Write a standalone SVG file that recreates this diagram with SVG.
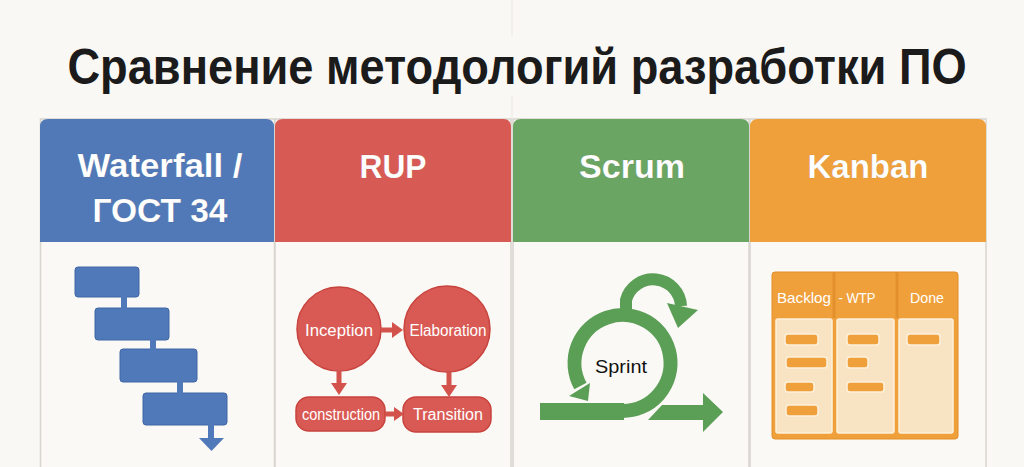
<svg xmlns="http://www.w3.org/2000/svg" width="1024" height="467" viewBox="0 0 1024 467">
<style>
.ttl{font-family:"Liberation Sans",Arial,sans-serif;font-weight:bold;fill:#1b1b1b}
.hd{font-family:"Liberation Sans",Arial,sans-serif;font-weight:bold;fill:#ffffff;text-anchor:middle;stroke:#00000022;stroke-width:0.6}
.body{fill:#fbf9f5;stroke:#d8d4ce;stroke-width:1.5}
.wf{fill:#5079b9;stroke:#3f67a6;stroke-width:1}
.rup{fill:#d95a54;stroke:#c8433e;stroke-width:1.5}
.rt{font-family:"Liberation Sans",Arial,sans-serif;font-size:16px;fill:#ffffff;text-anchor:middle}
.kt{font-family:"Liberation Sans",Arial,sans-serif;font-size:15px;fill:#ffffff;text-anchor:middle}
.kc{fill:#f8e4c2;stroke:#fdf0da;stroke-width:1.5}
.card{fill:#efa03b;stroke:#fdf0da;stroke-width:1.5}
.gr{fill:#5b9e56}
</style>
<rect x="0" y="0" width="1024" height="467" fill="#faf8f4"/>
<line x1="512" y1="0" x2="512" y2="36" stroke="#ebe8e3" stroke-width="1"/>
<line x1="512" y1="96" x2="512" y2="118" stroke="#ebe8e3" stroke-width="1"/>
<g transform="translate(517 84) scale(0.905 1)">
<text class="ttl" x="0" y="0" font-size="50" text-anchor="middle">Сравнение методологий разработки ПО</text>
</g>

<g id="col-waterfall">
<rect class="body" x="40.5" y="119" width="234" height="360"/>
<path d="M40 242 V127 Q40 119 48 119 H266 Q274 119 274 127 V242 Z" fill="#5179b8"/>
<text class="hd" x="160" y="177" font-size="33" textLength="165" lengthAdjust="spacingAndGlyphs">Waterfall /</text>
<text class="hd" x="160" y="222" font-size="33" textLength="135" lengthAdjust="spacingAndGlyphs">ГОСТ 34</text>
<rect class="wf" x="75" y="267" width="64" height="30" rx="3"/>
<rect class="wf" x="95" y="308" width="74" height="32" rx="3"/>
<rect class="wf" x="120" y="349" width="77" height="33" rx="3"/>
<rect class="wf" x="143" y="393" width="84" height="32" rx="3"/>
</g>

<g id="col-rup">
<rect class="body" x="275" y="119" width="236" height="360"/>
<path d="M275 242 V127 Q275 119 283 119 H503 Q511 119 511 127 V242 Z" fill="#d85a55"/>
<text class="hd" x="393" y="178" font-size="34" textLength="67" lengthAdjust="spacingAndGlyphs">RUP</text>
<g id="rup-inception">
<circle class="rup" cx="339" cy="329" r="42"/>
<text class="rt" x="339" y="336" textLength="68" lengthAdjust="spacingAndGlyphs">Inception</text>
</g>
<g id="rup-elaboration">
<circle class="rup" cx="447" cy="329" r="43"/>
<text class="rt" x="448" y="336" textLength="77" lengthAdjust="spacingAndGlyphs">Elaboration</text>
</g>
<g id="rup-construction">
<rect class="rup" x="296" y="397" width="89" height="34" rx="13"/>
<text class="rt" x="341" y="420" textLength="78" lengthAdjust="spacingAndGlyphs">construction</text>
</g>
<g id="rup-transition">
<rect class="rup" x="403" y="397" width="88" height="35" rx="13"/>
<text class="rt" x="448" y="420" textLength="70" lengthAdjust="spacingAndGlyphs">Transition</text>
</g>
</g>

<g id="col-scrum">
<rect class="body" x="513" y="119" width="236" height="360"/>
<path d="M513 242 V127 Q513 119 521 119 H741 Q749 119 749 127 V242 Z" fill="#6ba563"/>
<text class="hd" x="632" y="178" font-size="34" textLength="106" lengthAdjust="spacingAndGlyphs">Scrum</text>
<g id="scrum-sprint">
<path d="M626 312 V300 A28 28 0 0 1 681 306" fill="none" stroke="#5b9e56" stroke-width="12"/>
<polygon class="gr" points="667,303 698,310 678,328"/>
<rect class="gr" x="540" y="403" width="84" height="17"/>
<path d="M622 411 A48 48 0 1 0 580.4 386" fill="none" stroke="#5b9e56" stroke-width="14"/>
<polygon class="gr" points="569,396 590,383 588,401"/>
<polygon class="gr" points="648,420 662,405 703,405 703,393 723,412 703,432 703,420"/>
<text x="621" y="373" font-family="'Liberation Sans',Arial,sans-serif" font-size="19" fill="#111111" text-anchor="middle" textLength="52" lengthAdjust="spacingAndGlyphs">Sprint</text>
</g>
</g>

<g id="col-kanban">
<rect class="body" x="750" y="119" width="236" height="360"/>
<path d="M750 242 V127 Q750 119 758 119 H978 Q986 119 986 127 V242 Z" fill="#efa03b"/>
<text class="hd" x="868" y="178" font-size="34" textLength="121" lengthAdjust="spacingAndGlyphs">Kanban</text>
<g id="kanban-board">
<rect x="772" y="272" width="186" height="167" rx="3" fill="#efa03b" stroke="#e38e26" stroke-width="1"/>
<line x1="834" y1="272" x2="834" y2="318" stroke="#e2902c" stroke-width="3"/>
<line x1="897" y1="272" x2="897" y2="318" stroke="#e2902c" stroke-width="3"/>
<text class="kt" x="804" y="303" textLength="54" lengthAdjust="spacingAndGlyphs">Backlog</text>
<text class="kt" x="857" y="303" textLength="37" lengthAdjust="spacingAndGlyphs">- WTP</text>
<text class="kt" x="927" y="303" textLength="34" lengthAdjust="spacingAndGlyphs">Done</text>
<rect class="kc" x="776" y="319" width="56" height="114" rx="2"/>
<rect class="kc" x="837" y="319" width="57" height="114" rx="2"/>
<rect class="kc" x="899" y="319" width="54" height="114" rx="2"/>
<rect class="card" x="785" y="334" width="33" height="11" rx="3"/>
<rect class="card" x="786" y="357" width="41" height="11" rx="3"/>
<rect class="card" x="785" y="382" width="29" height="10" rx="3"/>
<rect class="card" x="786" y="405" width="32" height="11" rx="3"/>
<rect class="card" x="847" y="334" width="32" height="11" rx="3"/>
<rect class="card" x="847" y="357" width="21" height="11" rx="3"/>
<rect class="card" x="847" y="382" width="37" height="10" rx="3"/>
<rect class="card" x="907" y="334" width="33" height="11" rx="3"/>
</g>
</g>

<g id="connectors">
<g fill="#5079b9">
<rect x="121" y="296" width="6" height="13"/>
<rect x="150" y="339" width="6" height="11"/>
<rect x="177" y="381" width="6" height="13"/>
<rect x="208" y="424" width="6" height="15"/>
<polygon points="199,438 224,438 211.5,451"/>
</g>
<g stroke="#d4524c" stroke-width="5" fill="#d4524c">
<line x1="381" y1="330" x2="394" y2="330"/>
<polygon stroke="none" points="392,322 403,330 392,338"/>
<line x1="339" y1="370" x2="339" y2="385"/>
<polygon stroke="none" points="331,383 347,383 339,395"/>
<line x1="449" y1="372" x2="449" y2="387"/>
<polygon stroke="none" points="441,385 457,385 449,397"/>
<line x1="385" y1="414" x2="396" y2="414"/>
<polygon stroke="none" points="394,407 404,414 394,421"/>
</g>
</g>
</svg>
